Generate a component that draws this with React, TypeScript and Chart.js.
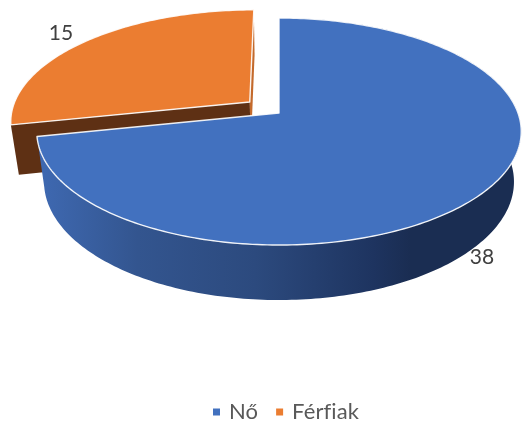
import React, { useEffect, useRef } from "react";
import { Chart, registerables } from "chart.js";

Chart.register(...registerables);

const categories = ["Nő", "Férfiak"];
const values = [38, 15];
const sliceColors = ["#4271BF", "#EB7D31"];

// 3D look (style only): perspective projection of the pie's disc
const VIEW = { cx: 279, cy: 113, a: 239, b: 110.5, p: 0.163 };
const EXPLODE = [0, 0.16];
const EDGE_COLORS = [
  ["#2f5597", "#2f5597"],
  ["#5e3014", "#c46a2c"],
];
const LABEL_POS = [
  { x: 482, y: 257 },
  { x: 61, y: 33 },
];

type Pt = { x: number; y: number };

function project(u: number, v: number): Pt {
  const w = 1 + VIEW.p * v;
  return { x: VIEW.cx + (VIEW.a * u) / w, y: VIEW.cy - (VIEW.b * v) / w };
}
function drop(p: Pt): Pt {
  return { x: VIEW.cx + (p.x - VIEW.cx) * 0.97, y: p.y * 1.0417 + 44.8 };
}

const noLigatures = (chart: any) => {
  // keeps the "fi" in the legend from becoming a ligature
  chart.ctx.textRendering = "optimizeSpeed";
  chart.ctx.letterSpacing = "0.1px";
};

const pie3d = {
  id: "pie3d",
  beforeInit: noLigatures,
  beforeLayout: noLigatures,
  beforeDraw: noLigatures,
  beforeDatasetDraw(chart: any, args: any) {
    const ctx: CanvasRenderingContext2D = chart.ctx;
    const arcs = args.meta.data as any[];

    const sideGrad = ctx.createLinearGradient(44, 0, 514, 0);
    sideGrad.addColorStop(0, "#3e68b0");
    sideGrad.addColorStop(0.2, "#33558f");
    sideGrad.addColorStop(0.45, "#2c4a7e");
    sideGrad.addColorStop(0.7, "#1e3460");
    sideGrad.addColorStop(0.78, "#1a2d52");
    sideGrad.addColorStop(1, "#1a2d52");

    const order = arcs.map((_, i) => i).reverse();
    for (const i of order) {
      const arc = arcs[i];
      const t0 = arc.startAngle + Math.PI / 2;
      const t1 = arc.endAngle + Math.PI / 2;
      const mid = (t0 + t1) / 2;
      const d = EXPLODE[i];
      const ou = d * Math.sin(mid);
      const ov = d * Math.cos(mid);
      const center = project(ou, ov);
      const rim: Pt[] = [];
      const n = Math.ceil(((t1 - t0) * 180) / Math.PI);
      for (let k = 0; k <= n; k++) {
        const t = t0 + ((t1 - t0) * k) / n;
        rim.push(project(ou + Math.sin(t), ov + Math.cos(t)));
      }
      const poly = (pts: Pt[], fill: any) => {
        ctx.beginPath();
        pts.forEach((p, j) => (j ? ctx.lineTo(p.x, p.y) : ctx.moveTo(p.x, p.y)));
        ctx.closePath();
        ctx.fillStyle = fill;
        ctx.fill();
      };
      const first = rim[0];
      const last = rim[rim.length - 1];
      if (i === 1) {
        poly([center, first, drop(first), drop(center)], EDGE_COLORS[i][0]);
        poly([center, last, drop(last), drop(center)], EDGE_COLORS[i][1]);
      } else {
        const bottom = rim.map(drop).reverse();
        poly([...rim, ...bottom], sideGrad);
      }
      // top face
      poly([center, ...rim], arc.options.backgroundColor);
      ctx.strokeStyle = "rgba(255,255,255,0.9)";
      ctx.lineWidth = 1.4;
      ctx.lineJoin = "round";
      ctx.stroke();
    }

    ctx.save();
    ctx.font = "21px Lato";
    ctx.fillStyle = "#404040";
    ctx.textAlign = "center";
    ctx.textBaseline = "middle";
    values.forEach((v, i) => ctx.fillText(String(v), LABEL_POS[i].x, LABEL_POS[i].y));
    ctx.restore();
    return false;
  },
};

export default function App() {
  const ref = useRef<HTMLCanvasElement>(null);
  useEffect(() => {
    document.body.style.margin = "0";
    const chart = new Chart(ref.current!, {
      type: "pie",
      data: {
        labels: categories,
        datasets: [{ data: values, backgroundColor: sliceColors, borderWidth: 0 }],
      },
      options: {
        responsive: false,
        animation: false,
        layout: { padding: { bottom: -10, left: 52 } },
        plugins: {
          tooltip: { enabled: false },
          legend: {
            position: "bottom",
            labels: {
              usePointStyle: true,
              pointStyle: "rect",
              boxWidth: 3,
              boxHeight: 7,
              padding: 20,
              color: "#595959",
              font: { family: "Lato", size: 22 },
            },
          },
        },
      },
      plugins: [pie3d],
    } as any);
    return () => chart.destroy();
  }, []);
  return <canvas ref={ref} width={522} height={423} style={{ display: "block" }} />;
}
